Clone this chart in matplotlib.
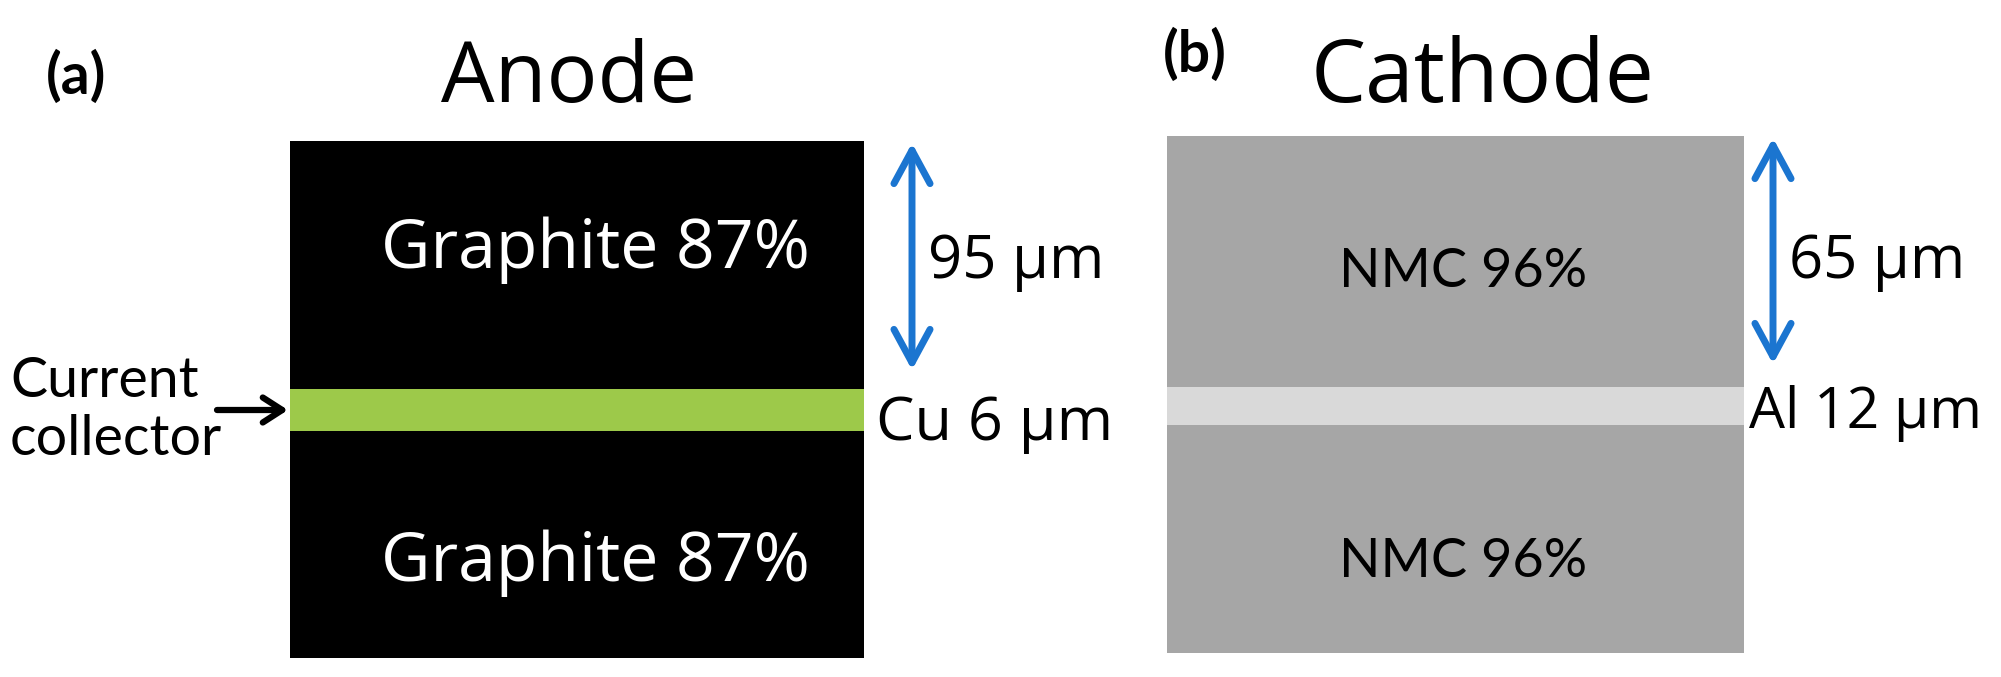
import matplotlib.pyplot as plt
from matplotlib.patches import Rectangle

# data
electrodes = ["Anode", "Cathode"]
panel_tags = ["(a)", "(b)"]
coating_material = ["Graphite", "NMC"]
coating_pct = [87, 96]
coating_um = [95, 65]
collector_metal = ["Cu", "Al"]
collector_um = [6, 12]

# layout in pixels (y grows downward)
W, H = 2001, 677
stack_x = [(290, 864), (1167, 1744)]
stack_y = [(141, 658), (136, 653)]
foil_y = [(389, 431), (387, 425)]
coat_color = ["black", "#a6a6a6"]
foil_color = ["#9dc94a", "#d9d9d9"]
coat_text_color = ["white", "black"]
coat_font = ["Open Sans", "Lato"]
coat_size = [49, 39]
coat_shift = [18, 8]
coat_base = [(268, 581), (287, 577)]
title_x = [569, 1483]
title_base = [102, 102]
title_size = [61, 63]
tag_x = [76, 1195]
tag_base = [94, 72]
dim_x = [912, 1773]
dim_y = [(143, 370), (138, 364)]
foil_base = [440, 428]
foil_gap = [12, 5]
foil_size = [44, 41]
blue = "#1b75d0"

fig = plt.figure(figsize=(W / 100, H / 100), dpi=100)
ax = fig.add_axes([0, 0, 1, 1])
ax.set_xlim(0, W)
ax.set_ylim(H, 0)
ax.axis("off")

for i in range(2):
    x0, x1 = stack_x[i]
    y0, y1 = stack_y[i]
    f0, f1 = foil_y[i]
    ax.add_patch(Rectangle((x0, y0), x1 - x0, y1 - y0, color=coat_color[i], lw=0))
    ax.add_patch(Rectangle((x0, f0), x1 - x0, f1 - f0, color=foil_color[i], lw=0))
    xc = (x0 + x1) / 2
    lab = f"{coating_material[i]} {coating_pct[i]}%"
    for yb in coat_base[i]:
        ax.text(xc + coat_shift[i], yb, lab, color=coat_text_color[i],
                fontsize=coat_size[i], family=coat_font[i],
                ha="center", va="baseline")

    ax.text(title_x[i], title_base[i], electrodes[i], fontsize=title_size[i],
            family="Open Sans", ha="center", va="baseline")
    ax.text(tag_x[i], tag_base[i], panel_tags[i], fontsize=41, family="Lato",
            weight="bold", ha="center", va="baseline")

    # thickness arrow
    ax.annotate("", xy=(dim_x[i], dim_y[i][0]), xytext=(dim_x[i], dim_y[i][1]),
                arrowprops=dict(arrowstyle="<->, head_length=1.2, head_width=0.65",
                                color=blue, lw=5, mutation_scale=20,
                                shrinkA=0, shrinkB=0))
    ax.text(dim_x[i] + 16, 278, f"{coating_um[i]} µm", fontsize=43,
            family="Open Sans", ha="left", va="baseline")
    ax.text(x1 + foil_gap[i], foil_base[i],
            f"{collector_metal[i]} {collector_um[i]} µm",
            fontsize=foil_size[i], family="Open Sans", ha="left", va="baseline")

ax.text(10, 397, "Current", fontsize=40, family="Lato", ha="left", va="baseline")
ax.text(10, 455, "collector", fontsize=40, family="Lato", ha="left", va="baseline")
ax.annotate("", xy=(288, 410), xytext=(217, 410),
            arrowprops=dict(arrowstyle="->, head_length=0.7, head_width=0.45",
                            color="black", lw=4.5, mutation_scale=20,
                            shrinkA=0, shrinkB=0))

fig.savefig("out.png", dpi=100)
